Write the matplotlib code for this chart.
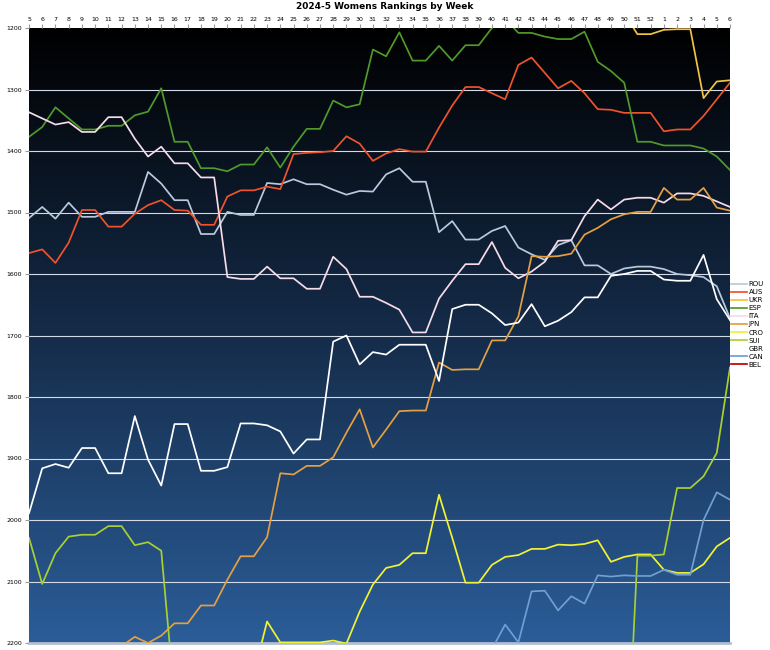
import numpy as np
import matplotlib
matplotlib.use("Agg")
import matplotlib.pyplot as plt
from matplotlib.colors import LinearSegmentedColormap

nan = np.nan

# week labels (season runs week 5 2024 -> week 6 2025)
weeks = ["5", "6", "7", "8", "9", "10", "11", "12", "13", "14", "15", "16", "17", "18",
         "19", "20", "21", "22", "23", "24", "25", "26", "27", "28", "29", "30", "31",
         "32", "33", "34", "35", "36", "37", "38", "39", "40", "41", "42", "43", "44",
         "45", "46", "47", "48", "49", "50", "51", "52", "1", "2", "3", "4", "5", "6"]

# rankings per week (lower = better)
rou = [1509, 1491, 1510, 1484, 1507, 1507, 1499, 1499, 1499, 1434,
       1453, 1480, 1480, 1535, 1535, 1499, 1504, 1504, 1452, 1454,
       1446, 1454, 1454, 1463, 1471, 1465, 1466, 1438, 1428, 1450,
       1450, 1532, 1514, 1544, 1544, 1530, 1522, 1557, 1568, 1577,
       1553, 1545, 1586, 1586, 1600, 1591, 1588, 1588, 1592, 1600,
       1602, 1605, 1620, 1672]
aus = [1566, 1560, 1582, 1549, 1496, 1496, 1523, 1523, 1502, 1488,
       1480, 1496, 1497, 1520, 1520, 1474, 1464, 1464, 1458, 1462,
       1405, 1403, 1402, 1400, 1376, 1388, 1416, 1404, 1397, 1401,
       1401, 1362, 1326, 1296, 1296, 1306, 1316, 1260, 1248, 1273,
       1298, 1286, 1306, 1332, 1333, 1338, 1338, 1338, 1368, 1365,
       1365, 1343, 1316, 1289]
ukr = [nan] * 45 + [1176, 1210, 1210, 1203, 1202, 1202, 1314, 1287, 1285]
esp = [1377, 1361, 1329, 1347, 1365, 1365, 1359, 1359, 1342, 1336,
       1298, 1385, 1385, 1428, 1428, 1433, 1422, 1422, 1394, 1427,
       1393, 1364, 1364, 1318, 1329, 1324, 1235, 1246, 1207, 1253,
       1253, 1229, 1253, 1228, 1228, 1200, 1185, 1208, 1208, 1214,
       1218, 1218, 1206, 1255, 1270, 1289, 1385, 1385, 1391, 1391,
       1391, 1396, 1409, 1431]
ita = [1337, 1347, 1357, 1353, 1369, 1369, 1345, 1345, 1380, 1409,
       1393, 1420, 1420, 1443, 1443, 1605, 1608, 1608, 1588, 1607,
       1607, 1624, 1624, 1572, 1592, 1637, 1637, 1647, 1658, 1695,
       1695, 1640, 1611, 1584, 1584, 1548, 1590, 1607, 1596, 1580,
       1546, 1545, 1506, 1479, 1495, 1479, 1476, 1476, 1484, 1469,
       1469, 1473, 1482, 1491]
jpn = [nan] * 7 + [2205, 2190, 2200, 2188, 2168, 2168, 2139, 2139, 2097, 2059,
                   2059, 2028, 1924, 1926, 1912, 1912, 1898, 1858, 1820, 1882,
                   1853, 1823, 1822, 1822, 1744, 1756, 1755, 1755, 1708, 1708,
                   1669, 1571, 1572, 1571, 1567, 1536, 1525, 1511, 1503, 1499,
                   1499, 1460, 1479, 1479, 1460, 1492, 1497]
cro = [nan] * 17 + [2250, 2165, 2199, 2199, 2199, 2199, 2196, 2201, 2149, 2105,
                    2078, 2073, 2054, 2054, 1959, 2029, 2102, 2102, 2073, 2060,
                    2057, 2047, 2047, 2040, 2041, 2039, 2033, 2068, 2060, 2056,
                    2056, 2081, 2086, 2086, 2072, 2043, 2029]
sui = [2029, 2104, 2054, 2027, 2024, 2024, 2010, 2010, 2041, 2036, 2050, 2290] + \
      [nan] * 33 + [2500, 2058, 2058, 2056, 1948, 1948, 1929, 1891, 1752]
gbr = [1989, 1916, 1909, 1915, 1883, 1883, 1924, 1924, 1831, 1902,
       1944, 1844, 1844, 1920, 1920, 1914, 1843, 1843, 1846, 1856,
       1892, 1869, 1869, 1710, 1700, 1747, 1727, 1731, 1715, 1715,
       1715, 1774, 1657, 1650, 1650, 1664, 1683, 1679, 1649, 1685,
       1676, 1662, 1638, 1638, 1603, 1600, 1595, 1595, 1609, 1611,
       1611, 1569, 1641, 1675]
can = [nan] * 35 + [2210, 2170, 2199, 2116, 2115, 2147, 2124, 2136, 2090, 2092,
                    2090, 2091, 2091, 2081, 2089, 2089, 2000, 1955, 1967]
bel = [nan] * 54

teams = ["ROU", "AUS", "UKR", "ESP", "ITA", "JPN", "CRO", "SUI", "GBR", "CAN", "BEL"]
series = [rou, aus, ukr, esp, ita, jpn, cro, sui, gbr, can, bel]
colors = ["#b9c9de", "#f0532b", "#f2c443", "#4f9a2a", "#f6dbe8", "#e3a044",
          "#f2f235", "#a9d032", "#ffffff", "#6f9fd3", "#c00000"]

fig = plt.figure(figsize=(7.7, 6.5), dpi=100)
ax = fig.add_axes([29 / 770, 7 / 650, 701 / 770, 615 / 650])

x = np.arange(len(weeks))

# dark-to-blue gradient background
cmap = LinearSegmentedColormap.from_list("bg", ["#000000", "#152c4a", "#2b5d98"])
grad = np.linspace(0, 1, 256).reshape(-1, 1)
ax.imshow(grad, cmap=cmap, aspect="auto", extent=[0, len(weeks) - 1, 2200, 1200],
          zorder=0, interpolation="bicubic")

for yv in range(1300, 2200, 100):
    ax.axhline(yv, color="#d3dbe8", lw=0.8, zorder=1)

for name, vals, c in zip(teams, series, colors):
    ax.plot(x, vals, color=c, lw=1.25, label=name, zorder=3)

ax.set_xlim(0, len(weeks) - 1)
ax.set_ylim(2200, 1200)
ax.set_yticks(range(1200, 2201, 100))
ax.tick_params(axis="y", labelsize=4.5, length=3, color="#999999", pad=2)
ax.set_xticks(x)
ax.set_xticklabels(weeks)
ax.xaxis.tick_top()
ax.tick_params(axis="x", labelsize=4.5, length=3, color="#999999", pad=1.5)

for s in ["left", "right", "top"]:
    ax.spines[s].set_visible(False)
ax.spines["bottom"].set_color("#b4bfcf")
ax.spines["bottom"].set_linewidth(2)

fig.text(0.5, 0.99, "2024-5 Womens Rankings by Week", ha="center", va="center",
         fontsize=6.5, fontweight="bold")

ax.legend(loc="center left", bbox_to_anchor=(0.998, 0.518), frameon=False,
          fontsize=5, handlelength=2.2, handletextpad=0.3, labelspacing=0.3,
          borderaxespad=0)

fig.savefig("out.png", dpi=100)
